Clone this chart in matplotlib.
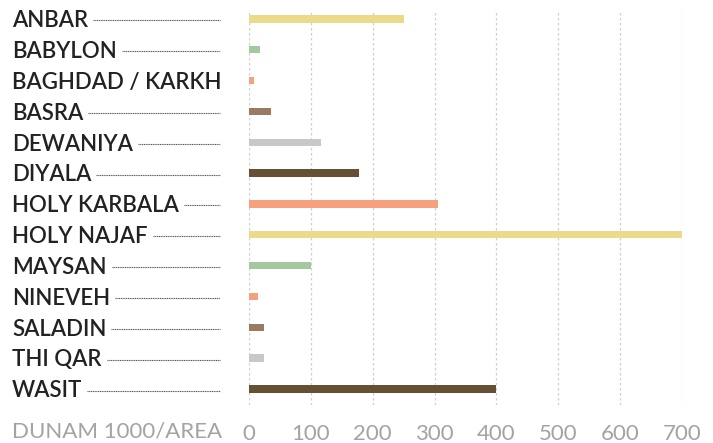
import matplotlib
matplotlib.use('Agg')
import matplotlib.pyplot as plt
from matplotlib.transforms import blended_transform_factory

plt.rcParams['font.family'] = ['Lato', 'DejaVu Sans']

regions = [
    "ANBAR", "BABYLON", "BAGHDAD / KARKH", "BASRA", "DEWANIYA", "DIYALA",
    "HOLY KARBALA", "HOLY NAJAF", "MAYSAN", "NINEVEH", "SALADIN", "THI QAR", "WASIT",
]
area = [251, 18, 8, 36, 116, 178, 305, 700, 100, 15, 25, 25, 400]
bar_colors = ["#EDD98A", "#A5C99E", "#F6A07E", "#9B7A62", "#C8C8C8", "#654F35",
              "#F6A07E", "#EDD98A", "#A5C99E", "#F6A07E", "#9B7A62", "#C8C8C8",
              "#654F35"]
ticks = [0, 100, 200, 300, 400, 500, 600, 700]
axis_label = "DUNAM 1000/AREA"

W, H = 713, 443
fig = plt.figure(figsize=(W / 100, H / 100), dpi=100)
ax = fig.add_axes([249 / W, 1 - 405 / H, (682 - 249) / W, (405 - 10) / H])

y = list(range(len(regions)))
ax.barh(y, area, height=0.24, color=bar_colors, zorder=3)

ax.set_xlim(0, 700)
ax.set_ylim(12.52, -0.29)
ax.set_xticks(ticks)
ax.set_yticks([])
ax.grid(axis='x', linestyle=(0, (2, 2)), color='#CFCFCF', linewidth=0.9, zorder=0)
for s in ax.spines.values():
    s.set_visible(False)
ax.tick_params(axis='x', length=0, pad=14, labelsize=16, labelcolor='#A3A3A3')

trans = blended_transform_factory(fig.transFigure, ax.transData)
labels = []
for yi, name in zip(y, regions):
    t = fig.text(12 / W, yi + 0.06, name, transform=trans, ha='left', va='center',
                 fontsize=16, fontweight='semibold', color='#222222')
    labels.append(t)

fig.text(12 / W, 1 - 432 / H, axis_label, ha='left', va='center',
         fontsize=16, color='#A3A3A3')

# dotted leader lines from each label to the plot area
fig.canvas.draw()
renderer = fig.canvas.get_renderer()
for t, yi in zip(labels, y):
    bb = t.get_window_extent(renderer)
    x0 = (bb.x1 + 5) / W
    x1 = 220 / W
    if x1 > x0:
        fig.add_artist(plt.Line2D([x0, x1], [yi + 0.05, yi + 0.05], transform=trans,
                                  color='#555555', linewidth=0.8,
                                  linestyle=(0, (1, 0.6))))

fig.savefig('out.png', dpi=100)
